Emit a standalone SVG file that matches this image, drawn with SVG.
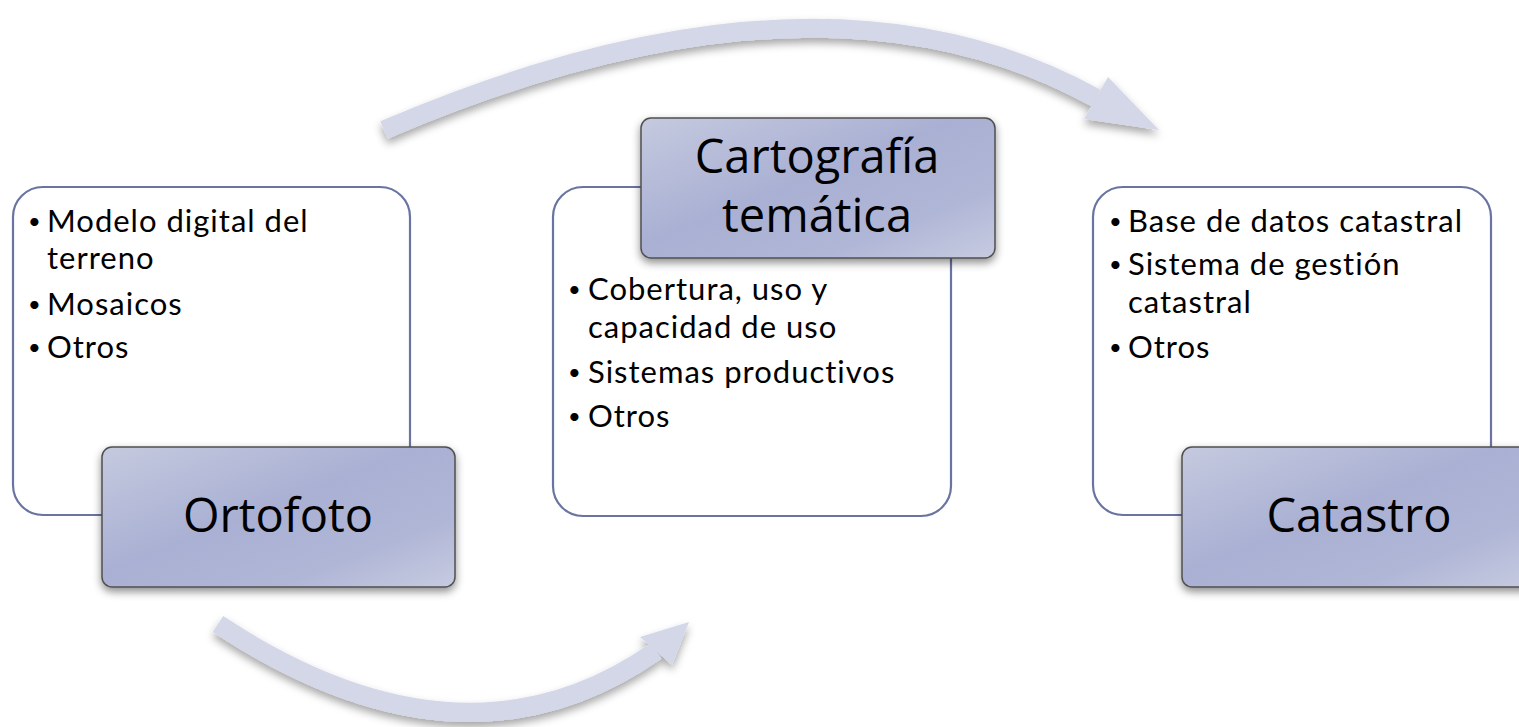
<svg xmlns="http://www.w3.org/2000/svg" width="1519" height="727" viewBox="0 0 1519 727">
<defs>
<linearGradient id="hdr" x1="0" y1="0" x2="1" y2="1">
<stop offset="0" stop-color="#c5cadf"/>
<stop offset="0.45" stop-color="#a9b0d3"/>
<stop offset="0.75" stop-color="#b0b6d6"/>
<stop offset="1" stop-color="#c7cbe1"/>
</linearGradient>
<filter id="sh" x="-10%" y="-10%" width="130%" height="140%">
<feDropShadow dx="0" dy="4" stdDeviation="4" flood-color="#000" flood-opacity="0.45"/>
</filter>
<filter id="ash" x="-10%" y="-20%" width="130%" height="150%">
<feDropShadow dx="0" dy="5" stdDeviation="4" flood-color="#000" flood-opacity="0.35"/>
</filter>
<style>
.card{fill:#fff;stroke:#6a74a0;stroke-width:2.2}
.hdr{fill:url(#hdr);stroke:#505050;stroke-width:1.5}
.bul{font-family:Lato,"Noto Sans",sans-serif;font-size:31px;letter-spacing:1px;fill:#000}
.dot{font-size:22px}
.ttl{font-family:"Open Sans","Noto Sans",sans-serif;font-size:47px;fill:#000;text-anchor:middle}
.band{fill:none;stroke:#d3d7e8;stroke-width:19}
.head{fill:#d3d7e8}
</style>
</defs>
<g id="connectors">
<g filter="url(#ash)">
<path class="band" d="M384,130 Q818,-56 1096,98"/>
<polygon class="head" points="1108,77 1084,119 1159,130"/>
</g>
<g filter="url(#ash)">
<path class="band" d="M218,624 Q463,786 656,651"/>
<polygon class="head" points="640,637 672,665 689,622"/>
</g>
</g>
<g id="node-ortofoto">
<rect class="card" x="13" y="187" width="397" height="328" rx="30"/>
<text class="bul"><tspan class="dot" x="28" y="229">•</tspan><tspan x="47" y="232">Modelo digital del</tspan><tspan x="47" y="269">terreno</tspan><tspan class="dot" x="28" y="312">•</tspan><tspan x="47" y="315">Mosaicos</tspan><tspan class="dot" x="28" y="355">•</tspan><tspan x="47" y="358">Otros</tspan></text>
<rect class="hdr" x="102" y="447" width="353" height="140" rx="10" filter="url(#sh)"/>
<text class="ttl" x="278" y="532">Ortofoto</text>
</g>
<g id="node-cartografia">
<rect class="card" x="553" y="187" width="398" height="329" rx="30"/>
<text class="bul"><tspan class="dot" x="568" y="297">•</tspan><tspan x="588" y="300">Cobertura, uso y</tspan><tspan x="588" y="338">capacidad de uso</tspan><tspan class="dot" x="568" y="380">•</tspan><tspan x="588" y="383">Sistemas productivos</tspan><tspan class="dot" x="568" y="424">•</tspan><tspan x="588" y="427">Otros</tspan></text>
<rect class="hdr" x="641" y="118" width="354" height="140" rx="10" filter="url(#sh)"/>
<text class="ttl" x="817" y="173">Cartografía</text>
<text class="ttl" x="817" y="232">temática</text>
</g>
<g id="node-catastro">
<rect class="card" x="1093" y="187" width="398" height="328" rx="30"/>
<text class="bul"><tspan class="dot" x="1109" y="229">•</tspan><tspan x="1128" y="232">Base de datos catastral</tspan><tspan class="dot" x="1109" y="272">•</tspan><tspan x="1128" y="275">Sistema de gestión</tspan><tspan x="1128" y="313">catastral</tspan><tspan class="dot" x="1109" y="355">•</tspan><tspan x="1128" y="358">Otros</tspan></text>
<rect class="hdr" x="1182" y="447" width="353" height="140" rx="10" filter="url(#sh)"/>
<text class="ttl" x="1359" y="532">Catastro</text>
</g>
</svg>
